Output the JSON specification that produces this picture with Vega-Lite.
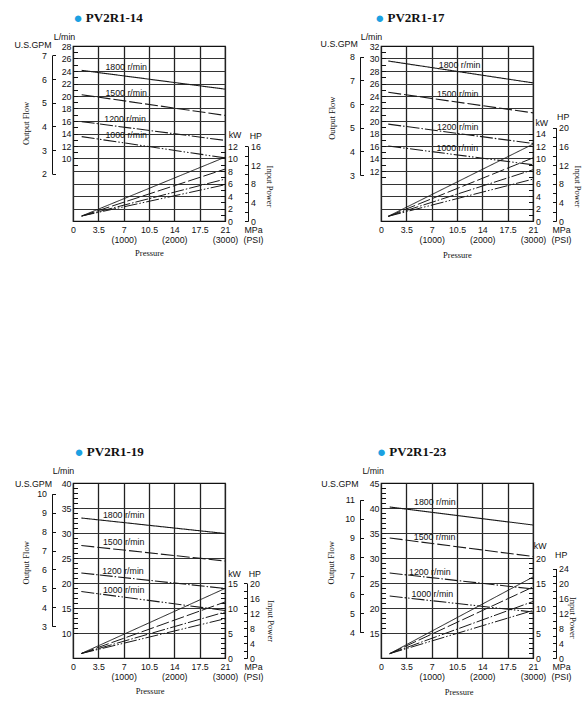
{
  "$schema": "https://vega.github.io/schema/vega-lite/v6.json",
  "padding": {"left": 13, "top": 10, "right": 2, "bottom": 2},
  "background": "white",
  "columns": 2,
  "spacing": {"row": 183, "column": 44},
  "config": {
    "view": {"stroke": "#111", "strokeWidth": 1.2},
    "axis": {
      "labelFont": "Liberation Sans", "labelFontSize": 8.8, "labelColor": "#111",
      "titleFont": "Liberation Sans", "titleFontSize": 8.8, "titleFontWeight": "normal", "titleColor": "#111",
      "domainColor": "#111", "tickColor": "#111", "labelOverlap": false, "labelBound": false
    },
    "text": {"font": "Liberation Sans"}
  },
  "datasets": {
    "flow": [
      {"model": "PV2R1-14", "rpm": "1800", "mpa": 1.2, "lpm": 24.1, "gpm": 6.37},
      {"model": "PV2R1-14", "rpm": "1800", "mpa": 21, "lpm": 21.1, "gpm": 5.57},
      {"model": "PV2R1-14", "rpm": "1500", "mpa": 1.2, "lpm": 20.2, "gpm": 5.34},
      {"model": "PV2R1-14", "rpm": "1500", "mpa": 21, "lpm": 16.9, "gpm": 4.47},
      {"model": "PV2R1-14", "rpm": "1200", "mpa": 1.2, "lpm": 15.9, "gpm": 4.2},
      {"model": "PV2R1-14", "rpm": "1200", "mpa": 21, "lpm": 12.9, "gpm": 3.41},
      {"model": "PV2R1-14", "rpm": "1000", "mpa": 1.2, "lpm": 13.5, "gpm": 3.57},
      {"model": "PV2R1-14", "rpm": "1000", "mpa": 21, "lpm": 10.1, "gpm": 2.67},
      {"model": "PV2R1-17", "rpm": "1800", "mpa": 1.0, "lpm": 29.6, "gpm": 7.82},
      {"model": "PV2R1-17", "rpm": "1800", "mpa": 21, "lpm": 26.1, "gpm": 6.9},
      {"model": "PV2R1-17", "rpm": "1500", "mpa": 1.0, "lpm": 24.6, "gpm": 6.5},
      {"model": "PV2R1-17", "rpm": "1500", "mpa": 21, "lpm": 21.3, "gpm": 5.63},
      {"model": "PV2R1-17", "rpm": "1200", "mpa": 1.0, "lpm": 19.5, "gpm": 5.15},
      {"model": "PV2R1-17", "rpm": "1200", "mpa": 21, "lpm": 16.4, "gpm": 4.33},
      {"model": "PV2R1-17", "rpm": "1000", "mpa": 1.0, "lpm": 16.0, "gpm": 4.23},
      {"model": "PV2R1-17", "rpm": "1000", "mpa": 21, "lpm": 13.0, "gpm": 3.43},
      {"model": "PV2R1-19", "rpm": "1800", "mpa": 1.15, "lpm": 33.0, "gpm": 8.72},
      {"model": "PV2R1-19", "rpm": "1800", "mpa": 21, "lpm": 29.9, "gpm": 7.9},
      {"model": "PV2R1-19", "rpm": "1500", "mpa": 1.15, "lpm": 27.5, "gpm": 7.27},
      {"model": "PV2R1-19", "rpm": "1500", "mpa": 21, "lpm": 24.4, "gpm": 6.45},
      {"model": "PV2R1-19", "rpm": "1200", "mpa": 1.15, "lpm": 22.0, "gpm": 5.81},
      {"model": "PV2R1-19", "rpm": "1200", "mpa": 21, "lpm": 18.9, "gpm": 4.99},
      {"model": "PV2R1-19", "rpm": "1000", "mpa": 1.15, "lpm": 18.3, "gpm": 4.83},
      {"model": "PV2R1-19", "rpm": "1000", "mpa": 21, "lpm": 14.5, "gpm": 3.83},
      {"model": "PV2R1-23", "rpm": "1800", "mpa": 1.2, "lpm": 40.2, "gpm": 10.62},
      {"model": "PV2R1-23", "rpm": "1800", "mpa": 21, "lpm": 36.6, "gpm": 9.67},
      {"model": "PV2R1-23", "rpm": "1500", "mpa": 1.2, "lpm": 34.0, "gpm": 8.98},
      {"model": "PV2R1-23", "rpm": "1500", "mpa": 21, "lpm": 30.3, "gpm": 8.01},
      {"model": "PV2R1-23", "rpm": "1200", "mpa": 1.2, "lpm": 27.0, "gpm": 7.13},
      {"model": "PV2R1-23", "rpm": "1200", "mpa": 21, "lpm": 23.8, "gpm": 6.29},
      {"model": "PV2R1-23", "rpm": "1000", "mpa": 1.2, "lpm": 22.4, "gpm": 5.92},
      {"model": "PV2R1-23", "rpm": "1000", "mpa": 21, "lpm": 19.2, "gpm": 5.07}
    ],
    "power": [
      {"model": "PV2R1-14", "rpm": "1800", "mpa": 1.2, "kw": 0.8, "hp": 1.07},
      {"model": "PV2R1-14", "rpm": "1800", "mpa": 21, "kw": 10.2, "hp": 13.68},
      {"model": "PV2R1-14", "rpm": "1500", "mpa": 1.2, "kw": 0.8, "hp": 1.07},
      {"model": "PV2R1-14", "rpm": "1500", "mpa": 21, "kw": 8.3, "hp": 11.13},
      {"model": "PV2R1-14", "rpm": "1200", "mpa": 1.2, "kw": 0.8, "hp": 1.07},
      {"model": "PV2R1-14", "rpm": "1200", "mpa": 21, "kw": 6.7, "hp": 8.98},
      {"model": "PV2R1-14", "rpm": "1000", "mpa": 1.2, "kw": 0.8, "hp": 1.07},
      {"model": "PV2R1-14", "rpm": "1000", "mpa": 21, "kw": 5.8, "hp": 7.78},
      {"model": "PV2R1-17", "rpm": "1800", "mpa": 1.0, "kw": 0.75, "hp": 1.01},
      {"model": "PV2R1-17", "rpm": "1800", "mpa": 21, "kw": 12.3, "hp": 16.49},
      {"model": "PV2R1-17", "rpm": "1500", "mpa": 1.0, "kw": 0.75, "hp": 1.01},
      {"model": "PV2R1-17", "rpm": "1500", "mpa": 21, "kw": 10.1, "hp": 13.54},
      {"model": "PV2R1-17", "rpm": "1200", "mpa": 1.0, "kw": 0.75, "hp": 1.01},
      {"model": "PV2R1-17", "rpm": "1200", "mpa": 21, "kw": 8.2, "hp": 11.0},
      {"model": "PV2R1-17", "rpm": "1000", "mpa": 1.0, "kw": 0.75, "hp": 1.01},
      {"model": "PV2R1-17", "rpm": "1000", "mpa": 21, "kw": 6.7, "hp": 8.98},
      {"model": "PV2R1-19", "rpm": "1800", "mpa": 1.15, "kw": 0.9, "hp": 1.21},
      {"model": "PV2R1-19", "rpm": "1800", "mpa": 21, "kw": 13.9, "hp": 18.64},
      {"model": "PV2R1-19", "rpm": "1500", "mpa": 1.15, "kw": 0.9, "hp": 1.21},
      {"model": "PV2R1-19", "rpm": "1500", "mpa": 21, "kw": 11.2, "hp": 15.02},
      {"model": "PV2R1-19", "rpm": "1200", "mpa": 1.15, "kw": 0.9, "hp": 1.21},
      {"model": "PV2R1-19", "rpm": "1200", "mpa": 21, "kw": 9.2, "hp": 12.34},
      {"model": "PV2R1-19", "rpm": "1000", "mpa": 1.15, "kw": 0.9, "hp": 1.21},
      {"model": "PV2R1-19", "rpm": "1000", "mpa": 21, "kw": 7.85, "hp": 10.53},
      {"model": "PV2R1-23", "rpm": "1800", "mpa": 1.2, "kw": 0.87, "hp": 1.17},
      {"model": "PV2R1-23", "rpm": "1800", "mpa": 21, "kw": 16.2, "hp": 21.72},
      {"model": "PV2R1-23", "rpm": "1500", "mpa": 1.2, "kw": 0.87, "hp": 1.17},
      {"model": "PV2R1-23", "rpm": "1500", "mpa": 21, "kw": 14.2, "hp": 19.04},
      {"model": "PV2R1-23", "rpm": "1200", "mpa": 1.2, "kw": 0.87, "hp": 1.17},
      {"model": "PV2R1-23", "rpm": "1200", "mpa": 21, "kw": 11.3, "hp": 15.15},
      {"model": "PV2R1-23", "rpm": "1000", "mpa": 1.2, "kw": 0.87, "hp": 1.17},
      {"model": "PV2R1-23", "rpm": "1000", "mpa": 21, "kw": 9.5, "hp": 12.74}
    ],
    "labels": [
      {"model": "PV2R1-14", "mpa": 7.35, "lpm": 24.6, "label": "1800 r/min"},
      {"model": "PV2R1-14", "mpa": 7.35, "lpm": 20.5, "label": "1500 r/min"},
      {"model": "PV2R1-14", "mpa": 7.2, "lpm": 16.3, "label": "1200 r/min"},
      {"model": "PV2R1-14", "mpa": 7.35, "lpm": 13.7, "label": "1000 r/min"},
      {"model": "PV2R1-17", "mpa": 10.85, "lpm": 29.0, "label": "1800 r/min"},
      {"model": "PV2R1-17", "mpa": 10.6, "lpm": 24.3, "label": "1500 r/min"},
      {"model": "PV2R1-17", "mpa": 10.6, "lpm": 19.1, "label": "1200 r/min"},
      {"model": "PV2R1-17", "mpa": 10.55, "lpm": 15.75, "label": "1000 r/min"},
      {"model": "PV2R1-19", "mpa": 7.0, "lpm": 33.6, "label": "1800 r/min"},
      {"model": "PV2R1-19", "mpa": 7.0, "lpm": 28.2, "label": "1500 r/min"},
      {"model": "PV2R1-19", "mpa": 6.9, "lpm": 22.45, "label": "1200 r/min"},
      {"model": "PV2R1-19", "mpa": 7.0, "lpm": 18.6, "label": "1000 r/min"},
      {"model": "PV2R1-23", "mpa": 7.43, "lpm": 41.3, "label": "1800 r/min"},
      {"model": "PV2R1-23", "mpa": 7.4, "lpm": 34.3, "label": "1500 r/min"},
      {"model": "PV2R1-23", "mpa": 6.74, "lpm": 27.3, "label": "1200 r/min"},
      {"model": "PV2R1-23", "mpa": 7.1, "lpm": 22.8, "label": "1000 r/min"}
    ]
  },
  "concat": [
    {
      "width": 152, "height": 175,
      "resolve": {"scale": {"y": "independent"}, "axis": {"x": "independent", "y": "independent"}},
      "layer": [
        {
          "data": {"name": "flow"},
          "transform": [{"filter": "datum.model === 'PV2R1-14'"}],
          "mark": {"type": "point", "opacity": 0},
          "encoding": {
            "x": {"field": "mpa", "type": "quantitative", "scale": {"domain": [0, 21], "nice": false},
              "axis": {"orient": "top", "domain": false, "ticks": false, "labels": false, "grid": false, "title": "●", "titleColor": "#1ba1e2", "titleFontSize": 15, "titleX": 4.6, "titleY": -28.4, "titleAlign": "center", "titleBaseline": "middle"}},
            "y": {"field": "lpm", "type": "quantitative", "scale": {"domain": [0, 28], "nice": false, "zero": false},
              "axis": {"orient": "left", "values": [2, 4, 6, 8, 10, 12, 14, 16, 18, 20, 22, 24, 26], "grid": true, "gridColor": "#333", "gridWidth": 1, "domain": false, "ticks": false, "labels": false, "title": "Output Flow", "titleFont": "Liberation Serif", "titleFontSize": 8.5, "titleAngle": -90, "titleX": -47.7, "titleY": 77, "titleAlign": "center", "titleBaseline": "middle"}}
          }
        },
        {
          "data": {"name": "flow"},
          "transform": [{"filter": "datum.model === 'PV2R1-14'"}],
          "mark": {"type": "line", "stroke": "#1a1a1a", "strokeWidth": 1.1},
          "encoding": {
            "x": {"field": "mpa", "type": "quantitative", "scale": {"domain": [0, 21], "nice": false},
              "axis": {"orient": "bottom", "values": [0, 3.5, 7, 10.5, 14, 17.5, 21], "grid": true, "gridColor": "#222", "gridWidth": 1.3, "domain": false, "ticks": false, "labelFlush": false, "labelPadding": 4.5, "labelBaseline": "top", "labelLineHeight": 10, "labelExpr": "datum.value == 7 ? ['7', '(1000)'] : datum.value == 14 ? ['14', '(2000)'] : datum.value == 21 ? ['21', '(3000)'] : format(datum.value, '.3~g')", "title": ["MPa", "(PSI)"], "titleX": 180, "titleY": 4.5, "titleAlign": "center", "titleBaseline": "top", "titleLineHeight": 10}},
            "y": {"field": "lpm", "type": "quantitative", "scale": {"domain": [0, 28], "nice": false, "zero": false},
              "axis": {"orient": "left", "values": [9, 10, 11, 12, 13, 14, 15, 16, 17, 18, 19, 20, 21, 22, 23, 24, 25, 26, 27, 28], "format": "d", "labelExpr": "datum.value >= 10 && datum.value % 2 == 0 ? datum.label : ''", "tickSize": -4.5, "labelPadding": 6.5, "domain": false, "grid": false, "title": "L/min", "titleAngle": 0, "titleX": -9, "titleY": -10, "titleAlign": "center", "titleBaseline": "middle"}},
            "strokeDash": {"field": "rpm", "type": "nominal", "scale": {"domain": ["1800", "1500", "1200", "1000"], "range": [[1, 0], [13, 3], [13, 2, 1.5, 2], [13, 2, 1.5, 2, 1.5, 2]]}, "legend": null}
          }
        },
        {
          "data": {"name": "power"},
          "transform": [{"filter": "datum.model === 'PV2R1-14'"}],
          "mark": {"type": "line", "stroke": "#1a1a1a", "strokeWidth": 1},
          "encoding": {
            "x": {"field": "mpa", "type": "quantitative", "scale": {"domain": [0, 21], "nice": false}, "axis": null},
            "y": {"field": "kw", "type": "quantitative", "scale": {"domain": [0, 28], "nice": false, "zero": false},
              "axis": {"orient": "right", "values": [0, 1, 2, 3, 4, 5, 6, 7, 8, 9, 10, 11, 12], "format": "d", "labelExpr": "datum.value % 2 == 0 ? datum.label : ''", "tickSize": -4.5, "labelPadding": 7, "domain": false, "grid": false, "title": "kW", "titleAngle": 0, "titleX": 9.5, "titleY": 88, "titleAlign": "center", "titleBaseline": "middle"}},
            "strokeDash": {"field": "rpm", "type": "nominal", "scale": {"domain": ["1800", "1500", "1200", "1000"], "range": [[1, 0], [13, 3], [13, 2, 1.5, 2], [13, 2, 1.5, 2, 1.5, 2]]}, "legend": null}
          }
        },
        {
          "data": {"name": "labels"},
          "transform": [{"filter": "datum.model === 'PV2R1-14'"}],
          "mark": {"type": "text", "fontSize": 8.8, "color": "#111", "align": "center", "baseline": "middle"},
          "encoding": {
            "x": {"field": "mpa", "type": "quantitative", "scale": {"domain": [0, 21], "nice": false}, "axis": null},
            "y": {"field": "lpm", "type": "quantitative", "scale": {"domain": [0, 28], "nice": false, "zero": false}, "axis": null},
            "text": {"field": "label"}
          }
        },
        {
          "data": {"name": "flow"},
          "transform": [{"filter": "datum.model === 'PV2R1-14'"}],
          "mark": {"type": "point", "opacity": 0},
          "encoding": {
            "x": {"field": "mpa", "type": "quantitative", "scale": {"domain": [0, 21], "nice": false},
              "axis": {"orient": "top", "domain": false, "ticks": false, "labels": false, "grid": false, "title": "PV2R1-14", "titleFont": "Liberation Serif", "titleFontSize": 13, "titleFontWeight": "bold", "titleX": 12.3, "titleY": -28.4, "titleAlign": "left", "titleBaseline": "middle"}},
            "y": {"field": "gpm", "type": "quantitative", "scale": {"domain": [2, 7], "range": [127.7, 9.4], "nice": false, "zero": false},
              "axis": {"orient": "left", "offset": 21, "values": [2, 2.25, 2.5, 2.75, 3, 3.25, 3.5, 3.75, 4, 4.25, 4.5, 4.75, 5, 5.25, 5.5, 5.75, 6, 6.25, 6.5, 6.75, 7], "format": "d", "labelExpr": "datum.value % 1 == 0 ? datum.label : ''", "tickSize": -3.5, "labelPadding": 9, "domain": true, "grid": false, "title": "U.S.GPM", "titleAngle": 0, "titleX": -19.5, "titleY": -1.7, "titleAlign": "center", "titleBaseline": "middle"}}
          }
        },
        {
          "data": {"name": "power"},
          "transform": [{"filter": "datum.model === 'PV2R1-14'"}],
          "mark": {"type": "point", "opacity": 0},
          "encoding": {
            "x": {"field": "mpa", "type": "quantitative", "scale": {"domain": [0, 21], "nice": false}, "axis": null},
            "y": {"field": "hp", "type": "quantitative", "scale": {"domain": [0, 16], "range": [175, 100.4], "nice": false, "zero": false},
              "axis": {"orient": "right", "offset": 23, "values": [0, 2, 4, 6, 8, 10, 12, 14, 16], "format": "d", "labelExpr": "datum.value % 4 == 0 ? datum.label : ''", "tickSize": -3.5, "labelPadding": 6, "domain": true, "grid": false, "title": "HP", "titleAngle": 0, "titleX": 7.3, "titleY": 89, "titleAlign": "center", "titleBaseline": "middle"}}
          }
        },
        {
          "data": {"name": "power"},
          "transform": [{"filter": "datum.model === 'PV2R1-14'"}],
          "mark": {"type": "point", "opacity": 0},
          "encoding": {
            "x": {"field": "mpa", "type": "quantitative", "scale": {"domain": [0, 21], "nice": false},
              "axis": {"orient": "bottom", "domain": false, "ticks": false, "labels": false, "grid": false, "title": "Pressure", "titleFont": "Liberation Serif", "titleFontSize": 8.5, "titleX": 76, "titleY": 31.5, "titleAlign": "center", "titleBaseline": "middle"}},
            "y": {"field": "kw", "type": "quantitative", "scale": {"domain": [0, 28], "nice": false, "zero": false},
              "axis": {"orient": "right", "domain": false, "ticks": false, "labels": false, "grid": false, "title": "Input Power", "titleFont": "Liberation Serif", "titleFontSize": 8.5, "titleAngle": 90, "titleX": 44, "titleY": 140, "titleAlign": "center", "titleBaseline": "middle"}}
          }
        }
      ]
    },
    {
      "width": 152, "height": 175,
      "resolve": {"scale": {"y": "independent"}, "axis": {"x": "independent", "y": "independent"}},
      "layer": [
        {
          "data": {"name": "flow"},
          "transform": [{"filter": "datum.model === 'PV2R1-17'"}],
          "mark": {"type": "point", "opacity": 0},
          "encoding": {
            "x": {"field": "mpa", "type": "quantitative", "scale": {"domain": [0, 21], "nice": false},
              "axis": {"orient": "top", "domain": false, "ticks": false, "labels": false, "grid": false, "title": "●", "titleColor": "#1ba1e2", "titleFontSize": 15, "titleX": -1.7, "titleY": -28.4, "titleAlign": "center", "titleBaseline": "middle"}},
            "y": {"field": "lpm", "type": "quantitative", "scale": {"domain": [4, 32], "nice": false, "zero": false},
              "axis": {"orient": "left", "values": [6, 8, 10, 12, 14, 16, 18, 20, 22, 24, 26, 28, 30], "grid": true, "gridColor": "#333", "gridWidth": 1, "domain": false, "ticks": false, "labels": false, "title": "Output Flow", "titleFont": "Liberation Serif", "titleFontSize": 8.5, "titleAngle": -90, "titleX": -49.7, "titleY": 71.7, "titleAlign": "center", "titleBaseline": "middle"}}
          }
        },
        {
          "data": {"name": "flow"},
          "transform": [{"filter": "datum.model === 'PV2R1-17'"}],
          "mark": {"type": "line", "stroke": "#1a1a1a", "strokeWidth": 1.1},
          "encoding": {
            "x": {"field": "mpa", "type": "quantitative", "scale": {"domain": [0, 21], "nice": false},
              "axis": {"orient": "bottom", "values": [0, 3.5, 7, 10.5, 14, 17.5, 21], "grid": true, "gridColor": "#222", "gridWidth": 1.3, "domain": false, "ticks": false, "labelFlush": false, "labelPadding": 4.5, "labelBaseline": "top", "labelLineHeight": 10, "labelExpr": "datum.value == 7 ? ['7', '(1000)'] : datum.value == 14 ? ['14', '(2000)'] : datum.value == 21 ? ['21', '(3000)'] : format(datum.value, '.3~g')", "title": ["MPa", "(PSI)"], "titleX": 180, "titleY": 4.5, "titleAlign": "center", "titleBaseline": "top", "titleLineHeight": 10}},
            "y": {"field": "lpm", "type": "quantitative", "scale": {"domain": [4, 32], "nice": false, "zero": false},
              "axis": {"orient": "left", "values": [11, 12, 13, 14, 15, 16, 17, 18, 19, 20, 21, 22, 23, 24, 25, 26, 27, 28, 29, 30, 31, 32], "format": "d", "labelExpr": "datum.value >= 12 && datum.value % 2 == 0 ? datum.label : ''", "tickSize": -4.5, "labelPadding": 6.5, "domain": false, "grid": false, "title": "L/min", "titleAngle": 0, "titleX": -10, "titleY": -10, "titleAlign": "center", "titleBaseline": "middle"}},
            "strokeDash": {"field": "rpm", "type": "nominal", "scale": {"domain": ["1800", "1500", "1200", "1000"], "range": [[1, 0], [13, 3], [13, 2, 1.5, 2], [13, 2, 1.5, 2, 1.5, 2]]}, "legend": null}
          }
        },
        {
          "data": {"name": "power"},
          "transform": [{"filter": "datum.model === 'PV2R1-17'"}],
          "mark": {"type": "line", "stroke": "#1a1a1a", "strokeWidth": 1},
          "encoding": {
            "x": {"field": "mpa", "type": "quantitative", "scale": {"domain": [0, 21], "nice": false}, "axis": null},
            "y": {"field": "kw", "type": "quantitative", "scale": {"domain": [0, 28], "nice": false, "zero": false},
              "axis": {"orient": "right", "values": [0, 1, 2, 3, 4, 5, 6, 7, 8, 9, 10, 11, 12, 13, 14], "format": "d", "labelExpr": "datum.value % 2 == 0 ? datum.label : ''", "tickSize": -4.5, "labelPadding": 7, "domain": false, "grid": false, "title": "kW", "titleAngle": 0, "titleX": 8.3, "titleY": 76.7, "titleAlign": "center", "titleBaseline": "middle"}},
            "strokeDash": {"field": "rpm", "type": "nominal", "scale": {"domain": ["1800", "1500", "1200", "1000"], "range": [[1, 0], [13, 3], [13, 2, 1.5, 2], [13, 2, 1.5, 2, 1.5, 2]]}, "legend": null}
          }
        },
        {
          "data": {"name": "labels"},
          "transform": [{"filter": "datum.model === 'PV2R1-17'"}],
          "mark": {"type": "text", "fontSize": 8.8, "color": "#111", "align": "center", "baseline": "middle"},
          "encoding": {
            "x": {"field": "mpa", "type": "quantitative", "scale": {"domain": [0, 21], "nice": false}, "axis": null},
            "y": {"field": "lpm", "type": "quantitative", "scale": {"domain": [4, 32], "nice": false, "zero": false}, "axis": null},
            "text": {"field": "label"}
          }
        },
        {
          "data": {"name": "flow"},
          "transform": [{"filter": "datum.model === 'PV2R1-17'"}],
          "mark": {"type": "point", "opacity": 0},
          "encoding": {
            "x": {"field": "mpa", "type": "quantitative", "scale": {"domain": [0, 21], "nice": false},
              "axis": {"orient": "top", "domain": false, "ticks": false, "labels": false, "grid": false, "title": "PV2R1-17", "titleFont": "Liberation Serif", "titleFontSize": 13, "titleFontWeight": "bold", "titleX": 6, "titleY": -28.4, "titleAlign": "left", "titleBaseline": "middle"}},
            "y": {"field": "gpm", "type": "quantitative", "scale": {"domain": [3, 8], "range": [129.0, 10.75], "nice": false, "zero": false},
              "axis": {"orient": "left", "offset": 21, "values": [3, 3.25, 3.5, 3.75, 4, 4.25, 4.5, 4.75, 5, 5.25, 5.5, 5.75, 6, 6.25, 6.5, 6.75, 7, 7.25, 7.5, 7.75, 8], "format": "d", "labelExpr": "datum.value % 1 == 0 ? datum.label : ''", "tickSize": -3.5, "labelPadding": 9, "domain": true, "grid": false, "title": "U.S.GPM", "titleAngle": 0, "titleX": -21.3, "titleY": -2.4, "titleAlign": "center", "titleBaseline": "middle"}}
          }
        },
        {
          "data": {"name": "power"},
          "transform": [{"filter": "datum.model === 'PV2R1-17'"}],
          "mark": {"type": "point", "opacity": 0},
          "encoding": {
            "x": {"field": "mpa", "type": "quantitative", "scale": {"domain": [0, 21], "nice": false}, "axis": null},
            "y": {"field": "hp", "type": "quantitative", "scale": {"domain": [0, 20], "range": [175, 81.8], "nice": false, "zero": false},
              "axis": {"orient": "right", "offset": 23, "values": [0, 2, 4, 6, 8, 10, 12, 14, 16, 18, 20], "format": "d", "labelExpr": "datum.value % 4 == 0 ? datum.label : ''", "tickSize": -3.5, "labelPadding": 6, "domain": true, "grid": false, "title": "HP", "titleAngle": 0, "titleX": 6.7, "titleY": 70.7, "titleAlign": "center", "titleBaseline": "middle"}}
          }
        },
        {
          "data": {"name": "power"},
          "transform": [{"filter": "datum.model === 'PV2R1-17'"}],
          "mark": {"type": "point", "opacity": 0},
          "encoding": {
            "x": {"field": "mpa", "type": "quantitative", "scale": {"domain": [0, 21], "nice": false},
              "axis": {"orient": "bottom", "domain": false, "ticks": false, "labels": false, "grid": false, "title": "Pressure", "titleFont": "Liberation Serif", "titleFontSize": 8.5, "titleX": 76, "titleY": 33, "titleAlign": "center", "titleBaseline": "middle"}},
            "y": {"field": "kw", "type": "quantitative", "scale": {"domain": [0, 28], "nice": false, "zero": false},
              "axis": {"orient": "right", "domain": false, "ticks": false, "labels": false, "grid": false, "title": "Input Power", "titleFont": "Liberation Serif", "titleFontSize": 8.5, "titleAngle": 90, "titleX": 44.3, "titleY": 140, "titleAlign": "center", "titleBaseline": "middle"}}
          }
        }
      ]
    },
    {
      "width": 152, "height": 175,
      "resolve": {"scale": {"y": "independent"}, "axis": {"x": "independent", "y": "independent"}},
      "layer": [
        {
          "data": {"name": "flow"},
          "transform": [{"filter": "datum.model === 'PV2R1-19'"}],
          "mark": {"type": "point", "opacity": 0},
          "encoding": {
            "x": {"field": "mpa", "type": "quantitative", "scale": {"domain": [0, 21], "nice": false},
              "axis": {"orient": "top", "domain": false, "ticks": false, "labels": false, "grid": false, "title": "●", "titleColor": "#1ba1e2", "titleFontSize": 15, "titleX": 5.6, "titleY": -31.7, "titleAlign": "center", "titleBaseline": "middle"}},
            "y": {"field": "lpm", "type": "quantitative", "scale": {"domain": [5, 40], "nice": false, "zero": false},
              "axis": {"orient": "left", "values": [10, 15, 20, 25, 30, 35], "grid": true, "gridColor": "#333", "gridWidth": 1, "domain": false, "ticks": false, "labels": false, "title": "Output Flow", "titleFont": "Liberation Serif", "titleFontSize": 8.5, "titleAngle": -90, "titleX": -47.7, "titleY": 79.3, "titleAlign": "center", "titleBaseline": "middle"}}
          }
        },
        {
          "data": {"name": "flow"},
          "transform": [{"filter": "datum.model === 'PV2R1-19'"}],
          "mark": {"type": "line", "stroke": "#1a1a1a", "strokeWidth": 1.1},
          "encoding": {
            "x": {"field": "mpa", "type": "quantitative", "scale": {"domain": [0, 21], "nice": false},
              "axis": {"orient": "bottom", "values": [0, 3.5, 7, 10.5, 14, 17.5, 21], "grid": true, "gridColor": "#222", "gridWidth": 1.3, "domain": false, "ticks": false, "labelFlush": false, "labelPadding": 4.5, "labelBaseline": "top", "labelLineHeight": 10, "labelExpr": "datum.value == 7 ? ['7', '(1000)'] : datum.value == 14 ? ['14', '(2000)'] : datum.value == 21 ? ['21', '(3000)'] : format(datum.value, '.3~g')", "title": ["MPa", "(PSI)"], "titleX": 180, "titleY": 4.5, "titleAlign": "center", "titleBaseline": "top", "titleLineHeight": 10}},
            "y": {"field": "lpm", "type": "quantitative", "scale": {"domain": [5, 40], "nice": false, "zero": false},
              "axis": {"orient": "left", "values": [10, 11, 12, 13, 14, 15, 16, 17, 18, 19, 20, 21, 22, 23, 24, 25, 26, 27, 28, 29, 30, 31, 32, 33, 34, 35, 36, 37, 38, 39, 40], "format": "d", "labelExpr": "datum.value % 5 == 0 ? datum.label : ''", "tickSize": -4.5, "labelPadding": 6.5, "domain": false, "grid": false, "title": "L/min", "titleAngle": 0, "titleX": -10, "titleY": -12.4, "titleAlign": "center", "titleBaseline": "middle"}},
            "strokeDash": {"field": "rpm", "type": "nominal", "scale": {"domain": ["1800", "1500", "1200", "1000"], "range": [[1, 0], [13, 3], [13, 2, 1.5, 2], [13, 2, 1.5, 2, 1.5, 2]]}, "legend": null}
          }
        },
        {
          "data": {"name": "power"},
          "transform": [{"filter": "datum.model === 'PV2R1-19'"}],
          "mark": {"type": "line", "stroke": "#1a1a1a", "strokeWidth": 1},
          "encoding": {
            "x": {"field": "mpa", "type": "quantitative", "scale": {"domain": [0, 21], "nice": false}, "axis": null},
            "y": {"field": "kw", "type": "quantitative", "scale": {"domain": [0, 35], "nice": false, "zero": false},
              "axis": {"orient": "right", "values": [0, 1, 2, 3, 4, 5, 6, 7, 8, 9, 10, 11, 12, 13, 14, 15], "format": "d", "labelExpr": "datum.value % 5 == 0 ? datum.label : ''", "tickSize": -4.5, "labelPadding": 7, "domain": false, "grid": false, "title": "kW", "titleAngle": 0, "titleX": 9, "titleY": 90, "titleAlign": "center", "titleBaseline": "middle"}},
            "strokeDash": {"field": "rpm", "type": "nominal", "scale": {"domain": ["1800", "1500", "1200", "1000"], "range": [[1, 0], [13, 3], [13, 2, 1.5, 2], [13, 2, 1.5, 2, 1.5, 2]]}, "legend": null}
          }
        },
        {
          "data": {"name": "labels"},
          "transform": [{"filter": "datum.model === 'PV2R1-19'"}],
          "mark": {"type": "text", "fontSize": 8.8, "color": "#111", "align": "center", "baseline": "middle"},
          "encoding": {
            "x": {"field": "mpa", "type": "quantitative", "scale": {"domain": [0, 21], "nice": false}, "axis": null},
            "y": {"field": "lpm", "type": "quantitative", "scale": {"domain": [5, 40], "nice": false, "zero": false}, "axis": null},
            "text": {"field": "label"}
          }
        },
        {
          "data": {"name": "flow"},
          "transform": [{"filter": "datum.model === 'PV2R1-19'"}],
          "mark": {"type": "point", "opacity": 0},
          "encoding": {
            "x": {"field": "mpa", "type": "quantitative", "scale": {"domain": [0, 21], "nice": false},
              "axis": {"orient": "top", "domain": false, "ticks": false, "labels": false, "grid": false, "title": "PV2R1-19", "titleFont": "Liberation Serif", "titleFontSize": 13, "titleFontWeight": "bold", "titleX": 13.3, "titleY": -31.7, "titleAlign": "left", "titleBaseline": "middle"}},
            "y": {"field": "gpm", "type": "quantitative", "scale": {"domain": [3, 10], "range": [143.2, 10.75], "nice": false, "zero": false},
              "axis": {"orient": "left", "offset": 21, "values": [3, 3.25, 3.5, 3.75, 4, 4.25, 4.5, 4.75, 5, 5.25, 5.5, 5.75, 6, 6.25, 6.5, 6.75, 7, 7.25, 7.5, 7.75, 8, 8.25, 8.5, 8.75, 9, 9.25, 9.5, 9.75, 10], "format": "d", "labelExpr": "datum.value % 1 == 0 ? datum.label : ''", "tickSize": -3.5, "labelPadding": 9, "domain": true, "grid": false, "title": "U.S.GPM", "titleAngle": 0, "titleX": -19, "titleY": 0, "titleAlign": "center", "titleBaseline": "middle"}}
          }
        },
        {
          "data": {"name": "power"},
          "transform": [{"filter": "datum.model === 'PV2R1-19'"}],
          "mark": {"type": "point", "opacity": 0},
          "encoding": {
            "x": {"field": "mpa", "type": "quantitative", "scale": {"domain": [0, 21], "nice": false}, "axis": null},
            "y": {"field": "hp", "type": "quantitative", "scale": {"domain": [0, 20], "range": [175, 100.4], "nice": false, "zero": false},
              "axis": {"orient": "right", "offset": 22, "values": [0, 2, 4, 6, 8, 10, 12, 14, 16, 18, 20], "format": "d", "labelExpr": "datum.value % 4 == 0 ? datum.label : ''", "tickSize": -3.5, "labelPadding": 6, "domain": true, "grid": false, "title": "HP", "titleAngle": 0, "titleX": 7.3, "titleY": 90, "titleAlign": "center", "titleBaseline": "middle"}}
          }
        },
        {
          "data": {"name": "power"},
          "transform": [{"filter": "datum.model === 'PV2R1-19'"}],
          "mark": {"type": "point", "opacity": 0},
          "encoding": {
            "x": {"field": "mpa", "type": "quantitative", "scale": {"domain": [0, 21], "nice": false},
              "axis": {"orient": "bottom", "domain": false, "ticks": false, "labels": false, "grid": false, "title": "Pressure", "titleFont": "Liberation Serif", "titleFontSize": 8.5, "titleX": 76.6, "titleY": 32.6, "titleAlign": "center", "titleBaseline": "middle"}},
            "y": {"field": "kw", "type": "quantitative", "scale": {"domain": [0, 35], "nice": false, "zero": false},
              "axis": {"orient": "right", "domain": false, "ticks": false, "labels": false, "grid": false, "title": "Input Power", "titleFont": "Liberation Serif", "titleFontSize": 8.5, "titleAngle": 90, "titleX": 45, "titleY": 137.6, "titleAlign": "center", "titleBaseline": "middle"}}
          }
        }
      ]
    },
    {
      "width": 152, "height": 175,
      "resolve": {"scale": {"y": "independent"}, "axis": {"x": "independent", "y": "independent"}},
      "layer": [
        {
          "data": {"name": "flow"},
          "transform": [{"filter": "datum.model === 'PV2R1-23'"}],
          "mark": {"type": "point", "opacity": 0},
          "encoding": {
            "x": {"field": "mpa", "type": "quantitative", "scale": {"domain": [0, 21], "nice": false},
              "axis": {"orient": "top", "domain": false, "ticks": false, "labels": false, "grid": false, "title": "●", "titleColor": "#1ba1e2", "titleFontSize": 15, "titleX": 0, "titleY": -31.7, "titleAlign": "center", "titleBaseline": "middle"}},
            "y": {"field": "lpm", "type": "quantitative", "scale": {"domain": [10, 45], "nice": false, "zero": false},
              "axis": {"orient": "left", "values": [15, 20, 25, 30, 35, 40], "grid": true, "gridColor": "#333", "gridWidth": 1, "domain": false, "ticks": false, "labels": false, "title": "Output Flow", "titleFont": "Liberation Serif", "titleFontSize": 8.5, "titleAngle": -90, "titleX": -50.6, "titleY": 79.3, "titleAlign": "center", "titleBaseline": "middle"}}
          }
        },
        {
          "data": {"name": "flow"},
          "transform": [{"filter": "datum.model === 'PV2R1-23'"}],
          "mark": {"type": "line", "stroke": "#1a1a1a", "strokeWidth": 1.1},
          "encoding": {
            "x": {"field": "mpa", "type": "quantitative", "scale": {"domain": [0, 21], "nice": false},
              "axis": {"orient": "bottom", "values": [0, 3.5, 7, 10.5, 14, 17.5, 21], "grid": true, "gridColor": "#222", "gridWidth": 1.3, "domain": false, "ticks": false, "labelFlush": false, "labelPadding": 4.5, "labelBaseline": "top", "labelLineHeight": 10, "labelExpr": "datum.value == 7 ? ['7', '(1000)'] : datum.value == 14 ? ['14', '(2000)'] : datum.value == 21 ? ['21', '(3000)'] : format(datum.value, '.3~g')", "title": ["MPa", "(PSI)"], "titleX": 180, "titleY": 4.5, "titleAlign": "center", "titleBaseline": "top", "titleLineHeight": 10}},
            "y": {"field": "lpm", "type": "quantitative", "scale": {"domain": [10, 45], "nice": false, "zero": false},
              "axis": {"orient": "left", "values": [15, 16, 17, 18, 19, 20, 21, 22, 23, 24, 25, 26, 27, 28, 29, 30, 31, 32, 33, 34, 35, 36, 37, 38, 39, 40, 41, 42, 43, 44, 45], "format": "d", "labelExpr": "datum.value % 5 == 0 ? datum.label : ''", "tickSize": -4.5, "labelPadding": 6.5, "domain": false, "grid": false, "title": "L/min", "titleAngle": 0, "titleX": -8.3, "titleY": -12.4, "titleAlign": "center", "titleBaseline": "middle"}},
            "strokeDash": {"field": "rpm", "type": "nominal", "scale": {"domain": ["1800", "1500", "1200", "1000"], "range": [[1, 0], [13, 3], [13, 2, 1.5, 2], [13, 2, 1.5, 2, 1.5, 2]]}, "legend": null}
          }
        },
        {
          "data": {"name": "power"},
          "transform": [{"filter": "datum.model === 'PV2R1-23'"}],
          "mark": {"type": "line", "stroke": "#1a1a1a", "strokeWidth": 1},
          "encoding": {
            "x": {"field": "mpa", "type": "quantitative", "scale": {"domain": [0, 21], "nice": false}, "axis": null},
            "y": {"field": "kw", "type": "quantitative", "scale": {"domain": [0, 35], "nice": false, "zero": false},
              "axis": {"orient": "right", "values": [0, 1, 2, 3, 4, 5, 6, 7, 8, 9, 10, 11, 12, 13, 14, 15, 16, 17, 18, 19, 20], "format": "d", "labelExpr": "datum.value % 5 == 0 ? datum.label : ''", "tickSize": -4.5, "labelPadding": 7, "domain": false, "grid": false, "title": "kW", "titleAngle": 0, "titleX": 6.7, "titleY": 62, "titleAlign": "center", "titleBaseline": "middle"}},
            "strokeDash": {"field": "rpm", "type": "nominal", "scale": {"domain": ["1800", "1500", "1200", "1000"], "range": [[1, 0], [13, 3], [13, 2, 1.5, 2], [13, 2, 1.5, 2, 1.5, 2]]}, "legend": null}
          }
        },
        {
          "data": {"name": "labels"},
          "transform": [{"filter": "datum.model === 'PV2R1-23'"}],
          "mark": {"type": "text", "fontSize": 8.8, "color": "#111", "align": "center", "baseline": "middle"},
          "encoding": {
            "x": {"field": "mpa", "type": "quantitative", "scale": {"domain": [0, 21], "nice": false}, "axis": null},
            "y": {"field": "lpm", "type": "quantitative", "scale": {"domain": [10, 45], "nice": false, "zero": false}, "axis": null},
            "text": {"field": "label"}
          }
        },
        {
          "data": {"name": "flow"},
          "transform": [{"filter": "datum.model === 'PV2R1-23'"}],
          "mark": {"type": "point", "opacity": 0},
          "encoding": {
            "x": {"field": "mpa", "type": "quantitative", "scale": {"domain": [0, 21], "nice": false},
              "axis": {"orient": "top", "domain": false, "ticks": false, "labels": false, "grid": false, "title": "PV2R1-23", "titleFont": "Liberation Serif", "titleFontSize": 13, "titleFontWeight": "bold", "titleX": 7.7, "titleY": -31.7, "titleAlign": "left", "titleBaseline": "middle"}},
            "y": {"field": "gpm", "type": "quantitative", "scale": {"domain": [4, 11], "range": [149.3, 16.8], "nice": false, "zero": false},
              "axis": {"orient": "left", "offset": 21, "values": [4, 4.25, 4.5, 4.75, 5, 5.25, 5.5, 5.75, 6, 6.25, 6.5, 6.75, 7, 7.25, 7.5, 7.75, 8, 8.25, 8.5, 8.75, 9, 9.25, 9.5, 9.75, 10, 10.25, 10.5, 10.75, 11], "format": "d", "labelExpr": "datum.value % 1 == 0 ? datum.label : ''", "tickSize": -3.5, "labelPadding": 9, "domain": true, "grid": false, "title": "U.S.GPM", "titleAngle": 0, "titleX": -20.6, "titleY": 0, "titleAlign": "center", "titleBaseline": "middle"}}
          }
        },
        {
          "data": {"name": "power"},
          "transform": [{"filter": "datum.model === 'PV2R1-23'"}],
          "mark": {"type": "point", "opacity": 0},
          "encoding": {
            "x": {"field": "mpa", "type": "quantitative", "scale": {"domain": [0, 21], "nice": false}, "axis": null},
            "y": {"field": "hp", "type": "quantitative", "scale": {"domain": [0, 24], "range": [175, 85.5], "nice": false, "zero": false},
              "axis": {"orient": "right", "offset": 23, "values": [0, 2, 4, 6, 8, 10, 12, 14, 16, 18, 20, 22, 24], "format": "d", "labelExpr": "datum.value % 4 == 0 ? datum.label : ''", "tickSize": -3.5, "labelPadding": 6, "domain": true, "grid": false, "title": "HP", "titleAngle": 0, "titleX": 4.7, "titleY": 71.7, "titleAlign": "center", "titleBaseline": "middle"}}
          }
        },
        {
          "data": {"name": "power"},
          "transform": [{"filter": "datum.model === 'PV2R1-23'"}],
          "mark": {"type": "point", "opacity": 0},
          "encoding": {
            "x": {"field": "mpa", "type": "quantitative", "scale": {"domain": [0, 21], "nice": false},
              "axis": {"orient": "bottom", "domain": false, "ticks": false, "labels": false, "grid": false, "title": "Pressure", "titleFont": "Liberation Serif", "titleFontSize": 8.5, "titleX": 77.7, "titleY": 33.3, "titleAlign": "center", "titleBaseline": "middle"}},
            "y": {"field": "kw", "type": "quantitative", "scale": {"domain": [0, 35], "nice": false, "zero": false},
              "axis": {"orient": "right", "domain": false, "ticks": false, "labels": false, "grid": false, "title": "Input Power", "titleFont": "Liberation Serif", "titleFontSize": 8.5, "titleAngle": 90, "titleX": 39.3, "titleY": 134.3, "titleAlign": "center", "titleBaseline": "middle"}}
          }
        }
      ]
    }
  ]
}
